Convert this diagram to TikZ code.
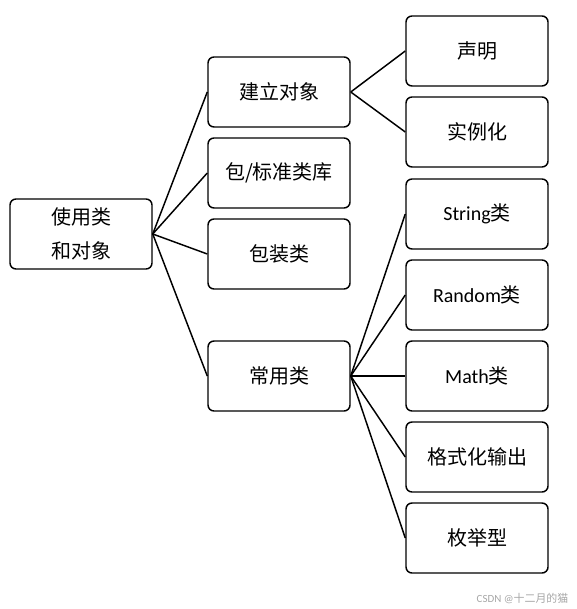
\documentclass[tikz,border=0pt]{standalone}
\usepackage{fontspec}
\setmainfont{Carlito}
\newfontfamily\cjk{Noto Sans CJK SC}
\tikzset{
  box/.style={draw, line width=1.1pt, rounded corners=4.5pt, minimum width=106.5pt,
    minimum height=52.5pt, font=\cjk\fontsize{15}{26}\selectfont, align=center},
  link/.style={line width=1.1pt}
}
\begin{document}
\begin{tikzpicture}[x=0.75pt, y=-0.75pt]
  \useasboundingbox (0,0) rectangle (576,609);
  \node[box] (root) at (81,234) {使用类\\和对象};
  % second column
  \foreach \y / \name / \txt in {92/build/建立对象, 173/lib/{包/标准类库}, 254/wrap/包装类, 376/common/常用类} {
    \node[box] (\name) at (279,\y) {\txt};
    \draw[link] (root.east) -- (\name.west);
  }
  % third column
  \foreach \y / \name / \txt / \up in {51/decl/声明/build, 132/inst/实例化/build,
      214/str/{{\rmfamily String}类}/common, 295/rand/{{\rmfamily Random}类}/common,
      376/math/{{\rmfamily Math}类}/common, 457/fmt/格式化输出/common, 538/enum/枚举型/common} {
    \node[box] (\name) at (477,\y) {\txt};
    \draw[link] (\up.east) -- (\name.west);
  }
  \node[anchor=east, text=black!35, font=\fontsize{8.2}{9}\selectfont] (mark) at (573,598) {CSDN @{\cjk 十二月的猫}};
\end{tikzpicture}
\end{document}
